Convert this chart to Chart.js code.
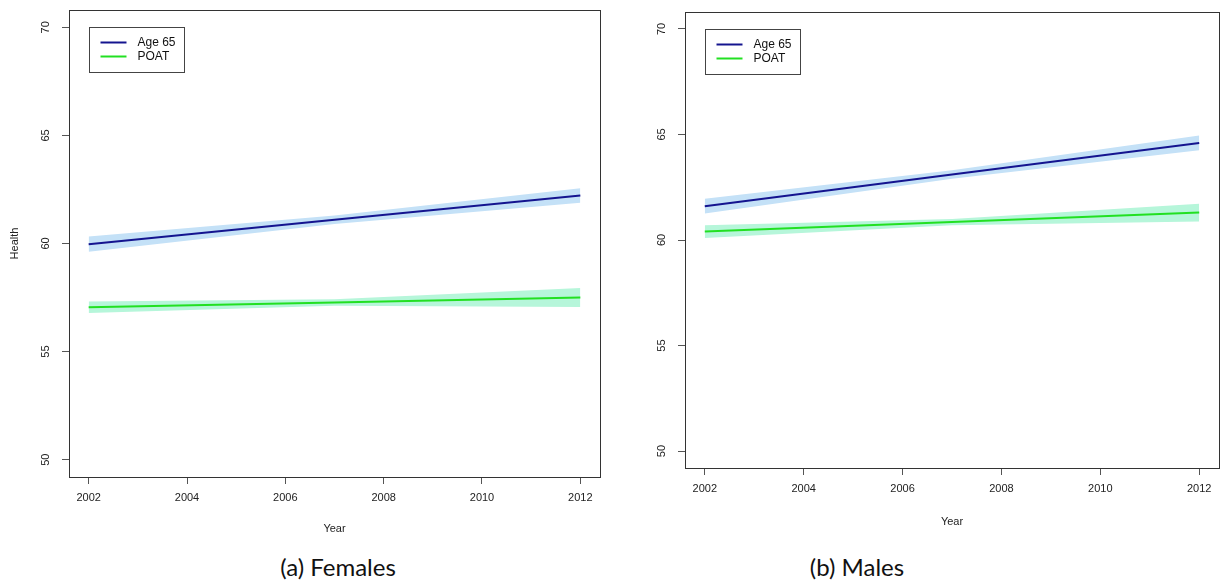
<!DOCTYPE html>
<html lang="en">
<head>
<meta charset="UTF-8">
<title>Health by year</title>
<script src="https://cdn.jsdelivr.net/npm/chart.js"></script>
<style>
    body { margin: 0; background: #fff; width: 1226px; height: 584px; position: relative; overflow: hidden; }
    .panel { position: absolute; top: 0; height: 545px; }
    #leftWrap { left: 0; width: 612px; }
    #rightWrap { left: 615px; width: 611px; }
    .cap { position: absolute; top: 552px; font-family: Lato, "Open Sans", sans-serif; font-size: 24px; color: #111; transform: translateX(-50%); white-space: nowrap; }
</style>
</head>
<body>
<div class="panel" id="leftWrap"><canvas id="females"></canvas></div>
<div class="panel" id="rightWrap"><canvas id="males"></canvas></div>
<div class="cap" style="left:338px">(a) Females</div>
<div class="cap" style="left:857px">(b) Males</div>
<script>
    // values
    const years = [2002, 2007, 2012];
    const xTicks = [2002, 2004, 2006, 2008, 2010, 2012];
    const yTicks = [50, 55, 60, 65, 70];
    const seriesNames = ['Age 65', 'POAT'];

    const femAge65 = [59.97, 61.1, 62.22];
    const femAge65Lo = [59.62, 60.9, 61.88];
    const femAge65Hi = [60.32, 61.3, 62.56];
    const femPoat = [57.05, 57.27, 57.5];
    const femPoatLo = [56.78, 57.12, 57.06];
    const femPoatHi = [57.32, 57.42, 57.94];

    const maleAge65 = [61.6, 63.1, 64.6];
    const maleAge65Lo = [61.25, 62.9, 64.25];
    const maleAge65Hi = [61.95, 63.3, 64.95];
    const malePoat = [60.4, 60.85, 61.3];
    const malePoatLo = [60.1, 60.7, 60.88];
    const malePoatHi = [60.7, 61.0, 61.72];

    const lineColors = ['#14148f', '#22e022'];
    const bandColors = ['#c4e1f7', '#b6f6da'];
    const axisColor = '#333';
    const tickFont = { family: '"Liberation Sans", Arial, sans-serif', size: 11 };

    function pts(arr) {
        return arr.map((v, i) => ({ x: years[i], y: v }));
    }

    const boxPlugin = {
        id: 'rbox',
        afterDraw(chart) {
            const ctx = chart.ctx;
            const ca = chart.chartArea;
            const ys = chart.scales.y;
            ctx.save();
            ctx.strokeStyle = axisColor;
            ctx.lineWidth = 1;
            ctx.strokeRect(Math.round(ca.left) + 0.5, Math.round(ca.top) + 0.5,
                Math.round(ca.right - ca.left), Math.round(ca.bottom - ca.top));

            // rotated y tick labels like R's default
            ctx.fillStyle = '#222';
            ctx.font = '11px "Liberation Sans", Arial, sans-serif';
            ctx.textAlign = 'center';
            ctx.textBaseline = 'middle';
            yTicks.forEach(v => {
                const y = ys.getPixelForValue(v);
                ctx.save();
                ctx.translate(ca.left - 23, y);
                ctx.rotate(-Math.PI / 2);
                ctx.fillText(String(v), 0, 0);
                ctx.restore();
            });

            // legend box in the top-left corner
            const bx = Math.round(ca.left) + 20.5, by = Math.round(ca.top) + 17.5;
            ctx.strokeStyle = '#444';
            ctx.strokeRect(bx, by, 95, 45);
            ctx.font = '12px "Liberation Sans", Arial, sans-serif';
            ctx.textAlign = 'left';
            seriesNames.forEach((name, i) => {
                const ly = by + 15 + i * 14;
                ctx.strokeStyle = lineColors[i];
                ctx.lineWidth = 2;
                ctx.beginPath();
                ctx.moveTo(bx + 11, ly);
                ctx.lineTo(bx + 37, ly);
                ctx.stroke();
                ctx.fillStyle = '#111';
                ctx.fillText(name, bx + 48, ly);
            });
            ctx.restore();
        }
    };

    function makeChart(id, d, box, yTitle) {
        const bandSet = (data, color, fill) => ({
            data: pts(data), fill: fill, backgroundColor: color,
            borderWidth: 0, pointRadius: 0, tension: 0, order: 2
        });
        const lineSet = (data, color) => ({
            data: pts(data), fill: false, borderColor: color,
            borderWidth: 2, pointRadius: 0, tension: 0, order: 1
        });
        return new Chart(document.getElementById(id), {
            type: 'line',
            data: {
                datasets: [
                    bandSet(d.a65Hi, bandColors[0], '+1'),
                    bandSet(d.a65Lo, bandColors[0], false),
                    bandSet(d.poatHi, bandColors[1], '+1'),
                    bandSet(d.poatLo, bandColors[1], false),
                    lineSet(d.a65, lineColors[0]),
                    lineSet(d.poat, lineColors[1])
                ]
            },
            options: {
                responsive: true,
                maintainAspectRatio: false,
                animation: false,
                layout: { padding: { left: 0, top: box.top, right: box.right, bottom: 0 } },
                plugins: { legend: { display: false }, tooltip: { enabled: false } },
                scales: {
                    x: {
                        type: 'linear', min: 2001.6, max: 2012.4,
                        afterBuildTicks: s => { s.ticks = xTicks.map(v => ({ value: v })); },
                        afterFit: s => { s.height = 545 - box.bottom; },
                        ticks: { callback: v => String(v), font: tickFont, color: '#222', padding: 7, maxRotation: 0 },
                        grid: { drawOnChartArea: false, drawTicks: true, tickLength: 7, color: '#555' },
                        border: { display: false },
                        title: { display: true, text: 'Year', font: tickFont, color: '#222', padding: { bottom: box.titlePad } }
                    },
                    y: {
                        type: 'linear', min: 49.2, max: 70.8,
                        afterBuildTicks: s => { s.ticks = yTicks.map(v => ({ value: v })); },
                        afterFit: s => { s.width = box.left; },
                        ticks: { display: false },
                        grid: { drawOnChartArea: false, drawTicks: true, tickLength: 7, color: '#555' },
                        border: { display: false },
                        title: { display: !!yTitle, text: yTitle || '', font: tickFont, color: '#222', padding: { top: 8 } }
                    }
                }
            },
            plugins: [boxPlugin]
        });
    }

    makeChart('females', {
        a65: femAge65, a65Lo: femAge65Lo, a65Hi: femAge65Hi,
        poat: femPoat, poatLo: femPoatLo, poatHi: femPoatHi
    }, { left: 69, top: 10, right: 12, bottom: 477, titlePad: 9 }, 'Health');

    makeChart('males', {
        a65: maleAge65, a65Lo: maleAge65Lo, a65Hi: maleAge65Hi,
        poat: malePoat, poatLo: malePoatLo, poatHi: malePoatHi
    }, { left: 70, top: 12, right: 7, bottom: 468, titlePad: 16 }, null);
</script>
</body>
</html>
